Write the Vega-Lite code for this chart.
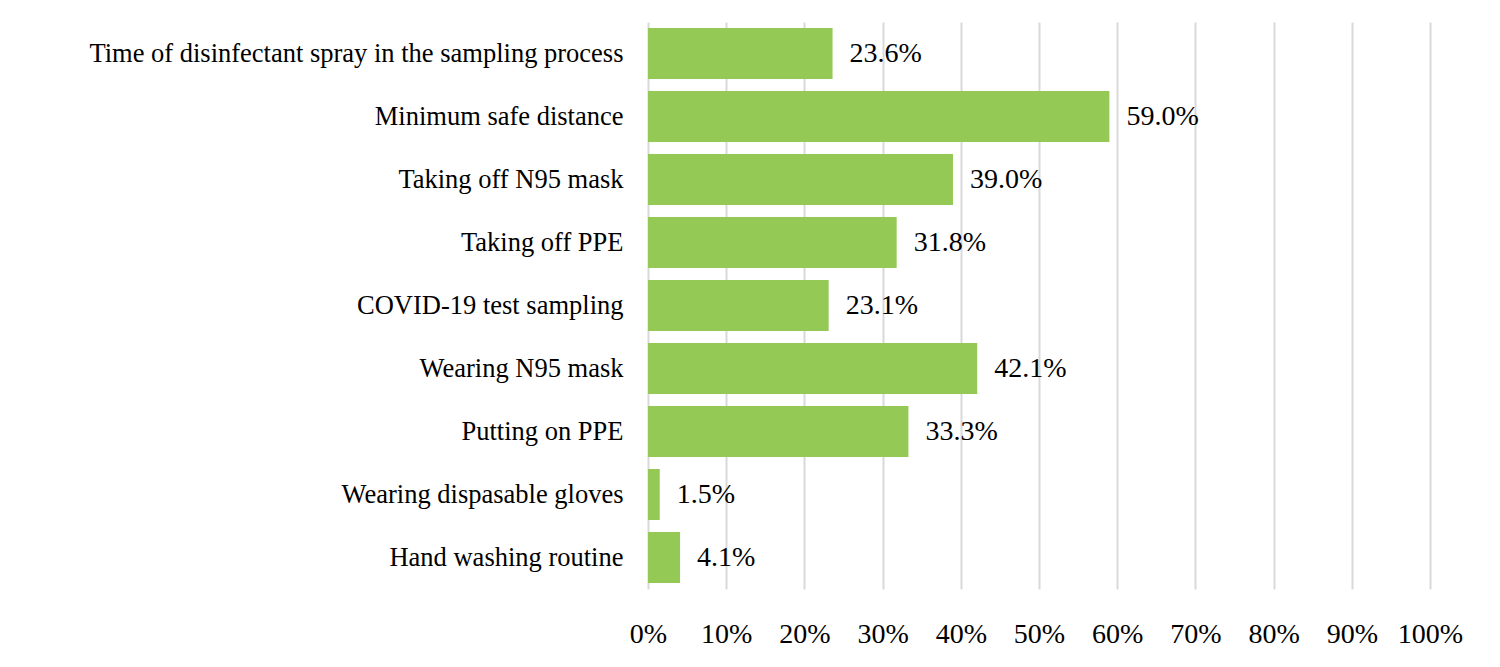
{
  "$schema": "https://vega.github.io/schema/vega-lite/v6.json",
  "autosize": "none",
  "padding": {"left": 648, "top": 22, "right": 70, "bottom": 78},
  "width": 782,
  "height": 567,
  "background": "white",
  "data": {
    "values": [
      {"item": "Time of disinfectant spray in the sampling process", "share": 0.236},
      {"item": "Minimum safe distance", "share": 0.590},
      {"item": "Taking off N95 mask", "share": 0.390},
      {"item": "Taking off PPE", "share": 0.318},
      {"item": "COVID-19 test sampling", "share": 0.231},
      {"item": "Wearing N95 mask", "share": 0.421},
      {"item": "Putting on PPE", "share": 0.333},
      {"item": "Wearing dispasable gloves", "share": 0.015},
      {"item": "Hand washing routine", "share": 0.041}
    ]
  },
  "encoding": {
    "y": {
      "field": "item",
      "type": "nominal",
      "sort": null,
      "scale": {"paddingInner": 0.19, "paddingOuter": 0.095},
      "axis": {
        "title": null,
        "domain": false,
        "ticks": false,
        "tickSize": 0,
        "labelPadding": 25,
        "labelFontSize": 26.5,
        "labelFont": "Liberation Serif",
        "labelColor": "black",
        "labelLimit": 700
      }
    },
    "x": {
      "field": "share",
      "type": "quantitative",
      "scale": {"domain": [0, 1], "nice": false},
      "axis": {
        "title": null,
        "format": "0%",
        "values": [0, 0.1, 0.2, 0.3, 0.4, 0.5, 0.6, 0.7, 0.8, 0.9, 1],
        "domain": false,
        "ticks": false,
        "tickSize": 0,
        "labelPadding": 31,
        "labelFontSize": 28,
        "labelFont": "Liberation Serif",
        "labelColor": "black",
        "labelFlush": false,
        "grid": true,
        "gridColor": "#d9d9d9",
        "gridWidth": 2
      }
    }
  },
  "layer": [
    {"mark": {"type": "bar", "color": "#94c955"}},
    {
      "mark": {
        "type": "text",
        "align": "left",
        "baseline": "middle",
        "dx": 17,
        "font": "Liberation Serif",
        "fontSize": 28,
        "color": "black"
      },
      "encoding": {"text": {"field": "share", "type": "quantitative", "format": ".1%"}}
    }
  ],
  "config": {"view": {"stroke": null}}
}
